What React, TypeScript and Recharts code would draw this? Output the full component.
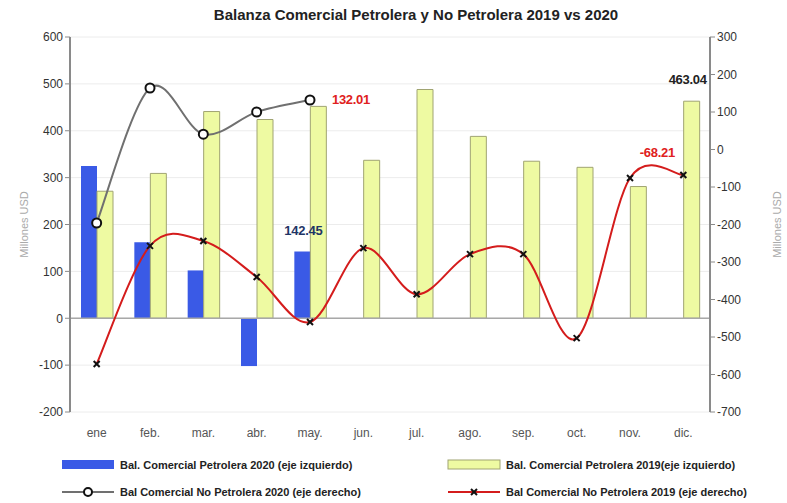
import { ComposedChart, Bar, Line, XAxis, YAxis, CartesianGrid, ReferenceLine, Legend, LabelList } from 'recharts'

const months = ['ene', 'feb.', 'mar.', 'abr.', 'may.', 'jun.', 'jul.', 'ago.', 'sep.', 'oct.', 'nov.', 'dic.']
const petrolera2020 = [325, 162, 102, -102, 142.45, null, null, null, null, null, null, null]
const petrolera2019 = [271, 309, 441, 424, 452, 337, 488, 388, 335, 322, 281, 463.04]
const noPetrolera2020 = [-196, 164, 41, 100, 132.01, null, null, null, null, null, null, null]
const noPetrolera2019 = [-572, -257, -244, -340, -460, -263, -386, -279, -279, -503, -76, -68.21]
const leftTicks = [-200, -100, 0, 100, 200, 300, 400, 500, 600]
const rightTicks = [-700, -600, -500, -400, -300, -200, -100, 0, 100, 200, 300]

const data = months.map((m, i) => ({
  m,
  p20: petrolera2020[i],
  p19: petrolera2019[i],
  np20: noPetrolera2020[i],
  np19: noPetrolera2019[i],
}))

const FONT = '"Liberation Sans", Arial, sans-serif'

// Excel-like smoothing (Catmull-Rom style bezier)
const excelSmooth = (context: any) => {
  let pts: [number, number][] = []
  return {
    areaStart() {},
    areaEnd() {},
    lineStart() { pts = [] },
    lineEnd() {
      if (!pts.length) return
      context.moveTo(pts[0][0], pts[0][1])
      for (let i = 0; i < pts.length - 1; i++) {
        const p0 = pts[i - 1] || pts[i]
        const p1 = pts[i]
        const p2 = pts[i + 1]
        const p3 = pts[i + 2] || p2
        context.bezierCurveTo(
          p1[0] + (p2[0] - p0[0]) / 6, p1[1] + (p2[1] - p0[1]) / 6,
          p2[0] - (p3[0] - p1[0]) / 6, p2[1] - (p3[1] - p1[1]) / 6,
          p2[0], p2[1],
        )
      }
    },
    point(x: number, y: number) { pts.push([+x, +y]) },
  }
}

const CircleDot = (props: any) => {
  const { cx, cy, value } = props
  if (value == null || cx == null) return null
  return <circle cx={cx} cy={cy} r={4.5} fill="#fff" stroke="#111" strokeWidth={2} />
}

const CrossDot = (props: any) => {
  const { cx, cy, value } = props
  if (value == null || cx == null) return null
  return (
    <g stroke="#111" strokeWidth={2}>
      <line x1={cx - 3} y1={cy - 3} x2={cx + 3} y2={cy + 3} />
      <line x1={cx - 3} y1={cy + 3} x2={cx + 3} y2={cy - 3} />
    </g>
  )
}

const valueLabel = (idx: number, color: string, dx: number, dy: number, anchor: string) => (props: any) => {
  const { x, y, width, index, value } = props
  if (index !== idx || value == null) return null
  const cx = width != null ? x + width / 2 : x
  return (
    <text x={cx + dx} y={y + dy} fill={color} fontSize={13} fontWeight="bold" fontFamily={FONT} textAnchor={anchor} letterSpacing={-0.3}>
      {Number(value).toFixed(2)}
    </text>
  )
}

const LegendBox = () => {
  const txt = { fontSize: 11, fontWeight: 'bold' as const, fill: '#222', fontFamily: FONT }
  return (
    <svg width={787} height={56} style={{ display: 'block' }}>
      <rect x={62} y={13} width={52} height={9} fill="#3a5ae6" />
      <text x={120} y={22} {...txt}>Bal. Comercial Petrolera 2020 (eje izquierdo)</text>
      <rect x={448} y={13} width={52} height={9} fill="#eefaa2" stroke="#a0a472" strokeWidth={1} />
      <text x={506} y={22} {...txt}>Bal. Comercial Petrolera 2019(eje izquierdo)</text>
      <line x1={62} y1={45} x2={114} y2={45} stroke="#707070" strokeWidth={2} />
      <circle cx={88} cy={45} r={4} fill="#fff" stroke="#111" strokeWidth={2} />
      <text x={120} y={49} {...txt}>Bal Comercial No Petrolera 2020 (eje derecho)</text>
      <line x1={448} y1={45} x2={500} y2={45} stroke="#d41c1c" strokeWidth={2} />
      <g stroke="#111" strokeWidth={2}>
        <line x1={471} y1={42} x2={477} y2={48} />
        <line x1={471} y1={48} x2={477} y2={42} />
      </g>
      <text x={506} y={49} {...txt}>Bal Comercial No Petrolera 2019 (eje derecho)</text>
    </svg>
  )
}

export default function App() {
  const tick = { fill: '#333', fontSize: 12, fontFamily: FONT }
  return (
    <div style={{ position: 'absolute', left: 0, top: 0, width: 787, height: 503, background: '#fff' }}>
      <div style={{ position: 'absolute', left: 0, width: 832, top: 6, textAlign: 'center', fontFamily: FONT, fontWeight: 'bold', fontSize: 15, color: '#222' }}>
        Balanza Comercial Petrolera y No Petrolera 2019 vs 2020
      </div>
      <ComposedChart width={787} height={503} data={data} margin={{ top: 37, right: 0, bottom: 0, left: 0 }} barSize={16} barGap={0}>
        <CartesianGrid vertical={false} stroke="#ececec" yAxisId="left" />
        <XAxis dataKey="m" axisLine={false} tickLine={false} height={35} tickMargin={10} tick={{ ...tick, fill: '#555' }} interval={0} />
        <YAxis yAxisId="left" domain={[-200, 600]} ticks={leftTicks} width={70} axisLine={{ stroke: '#8a8a8a', strokeWidth: 2 }} tickLine={{ stroke: '#8a8a8a' }} tickSize={5} tick={tick}
          label={{ value: 'Millones USD', angle: -90, position: 'insideLeft', offset: 24, fill: '#aaa', fontSize: 11, fontFamily: FONT, style: { textAnchor: 'middle' } }} />
        <YAxis yAxisId="right" orientation="right" domain={[-700, 300]} ticks={rightTicks} width={77} axisLine={{ stroke: '#8a8a8a', strokeWidth: 2 }} tickLine={{ stroke: '#8a8a8a' }} tickSize={5} tick={tick}
          label={{ value: 'Millones USD', angle: -90, position: 'insideRight', offset: 10, fill: '#aaa', fontSize: 11, fontFamily: FONT, style: { textAnchor: 'middle' } }} />
        <ReferenceLine yAxisId="left" y={0} stroke="#a8a8a8" strokeWidth={1.5} />
        <Bar yAxisId="left" dataKey="p20" fill="#3a5ae6" isAnimationActive={false}>
          <LabelList dataKey="p20" content={valueLabel(4, '#1f3566', 1, -16, 'middle')} />
        </Bar>
        <Bar yAxisId="left" dataKey="p19" fill="#eefaa2" stroke="#a0a472" strokeWidth={1} isAnimationActive={false}>
          <LabelList dataKey="p19" content={valueLabel(11, '#222', -4, -17, 'middle')} />
        </Bar>
        <Line yAxisId="right" dataKey="np20" type={excelSmooth as any} stroke="#707070" strokeWidth={2} dot={<CircleDot />} activeDot={false} isAnimationActive={false}>
          <LabelList dataKey="np20" content={valueLabel(4, '#e02020', 22, 4, 'start')} />
        </Line>
        <Line yAxisId="right" dataKey="np19" type={excelSmooth as any} stroke="#d41c1c" strokeWidth={2} dot={<CrossDot />} activeDot={false} isAnimationActive={false}>
          <LabelList dataKey="np19" content={valueLabel(11, '#e02020', -26, -18, 'middle')} />
        </Line>
        <Legend verticalAlign="bottom" height={56} content={() => <LegendBox />} />
      </ComposedChart>
    </div>
  )
}
